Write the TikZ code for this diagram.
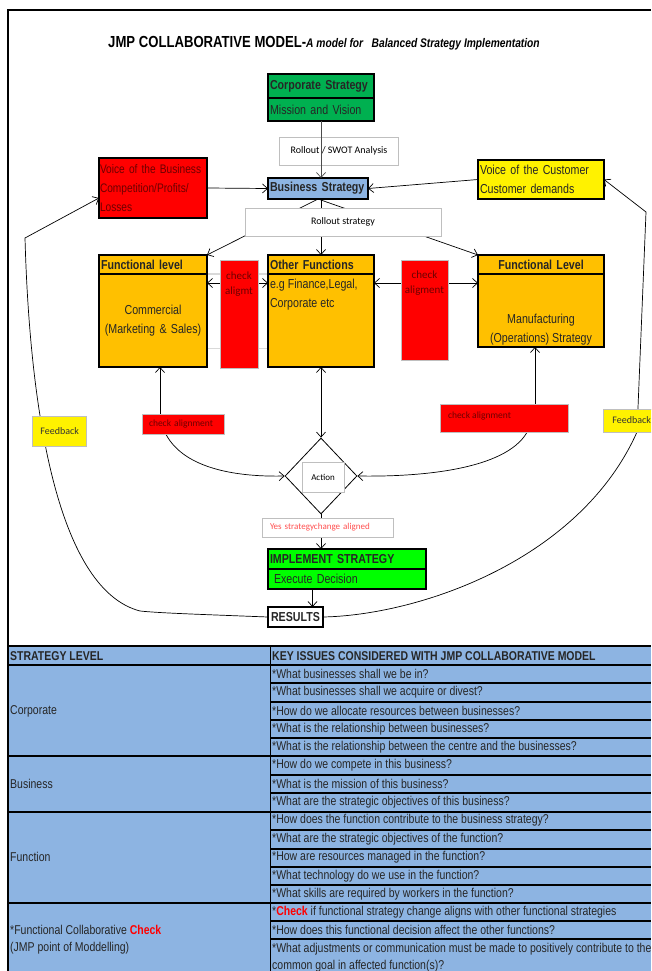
\documentclass[tikz,border=0pt]{standalone}
\usepackage{fontspec}
\newfontfamily\narrow[FakeStretch=0.82]{Liberation Sans}
\newfontfamily\calib{Carlito}
\usetikzlibrary{arrows.meta,shapes.geometric,calc}
\definecolor{corpgreen}{RGB}{0,176,80}
\definecolor{implgreen}{RGB}{0,255,0}
\definecolor{busblue}{RGB}{141,180,226}
\definecolor{funcorange}{RGB}{255,192,0}
\definecolor{darkred}{RGB}{110,0,0}
\definecolor{tagred}{RGB}{255,80,80}
\definecolor{tagline}{RGB}{191,191,191}
\pgfdeclarelayer{bg}
\pgfsetlayers{bg,main}
\newcommand{\boxfont}{\narrow\fontsize{13}{19}\selectfont}
\newcommand{\tagfont}{\calib\fontsize{10}{15}\selectfont}
\newcommand{\tabfont}{\narrow\fontsize{12.8}{18}\selectfont}

\begin{document}
\begin{tikzpicture}[x=1pt, y=-1pt,
  box/.style={draw, line width=2.4pt, outer sep=0pt, anchor=north west, inner sep=2pt, font=\boxfont, text=black!85, align=left},
  hd/.style={box, font=\boxfont\bfseries},
  tag/.style={draw=tagline, line width=0.8pt, fill=white, font=\tagfont, inner sep=0pt},
  chk/.style={tag, fill=red, text=darkred},
  fb/.style={tag, fill=yellow, text=black!80, anchor=west, inner xsep=8pt, align=left},
  arr/.style={-{Straight Barb[length=5pt,width=9pt]}, line width=0.7pt},
  twoway/.style={{Straight Barb[length=5pt,width=9pt]}-{Straight Barb[length=5pt,width=9pt]}, line width=0.7pt},
  ghost/.style={draw=black!15, line width=1.2pt},
  cell/.style={anchor=west, font=\tabfont, inner sep=0pt, text=black!85}
]
\useasboundingbox (0,0) rectangle (651,971);
\clip (0,0) rectangle (651,971);

% title
\node[font=\narrow\fontsize{16}{18}\selectfont\bfseries] (title) at (324,43) {JMP COLLABORATIVE MODEL-{\fontsize{12.5}{14}\selectfont\itshape A model for\ \ \ Balanced Strategy Implementation}};

% strategy boxes
\node[hd, fill=corpgreen, text width=102pt, minimum height=24pt] (corp) at (268,74) {Corporate Strategy};
\node[box, fill=corpgreen, text width=102pt, minimum height=23pt] (mission) at (corp.south west) {Mission and Vision};
\node[hd, fill=busblue, text width=96pt, minimum height=21pt] (bus) at (268,178) {Business Strategy};
\node[box, fill=red, text=darkred, inner xsep=1pt, text width=106pt, minimum height=60pt, font=\narrow\fontsize{12.4}{19}\selectfont] (vob) at (99,158) {Voice of the Business\\Competition/Profits/\\Losses};
\node[box, fill=yellow, text width=122pt, minimum height=39pt] (voc) at (478,160) {Voice of the Customer\\Customer demands};

% functional level
\node[hd, fill=funcorange, text width=104pt, minimum height=19pt] (lhead) at (99,255) {Functional level};
\node[box, fill=funcorange, text width=104pt, minimum height=93pt, align=center] (lbody) at (lhead.south west) {Commercial\\(Marketing \& Sales)};
\node[hd, fill=funcorange, text width=102pt, minimum height=19pt] (ohead) at (268,255) {Other Functions};
\node[box, fill=funcorange, text width=102pt, minimum height=93pt] (obody) at (ohead.south west) {};
\node[box, draw=none, fill=none, yshift=-3pt] (otext) at (obody.north west) {e.g Finance,Legal,\\Corporate etc};
\node[hd, fill=funcorange, text width=122pt, minimum height=19pt, align=center] (rhead) at (478,255) {Functional Level};
\node[box, fill=funcorange, text width=122pt, minimum height=73pt] (rbody) at (rhead.south west) {};
\node[box, draw=none, fill=none, align=center, anchor=south] (rtext) at (rbody.south) {Manufacturing\\(Operations) Strategy};

% implementation
\node[hd, fill=implgreen, text width=154pt, minimum height=20pt] (impl) at (268,549) {IMPLEMENT STRATEGY};
\node[box, fill=implgreen, text width=154pt, minimum height=20pt] (exec) at (impl.south west) {\hspace{4pt}Execute Decision};
\node[hd, fill=white, text width=51pt, minimum height=20pt, align=center] (results) at (268,607) {RESULTS};
\node[diamond, draw, line width=0.8pt, minimum width=72pt, minimum height=76pt, inner sep=0pt] (dia) at (321,476) {};

% labels
\node[tag, minimum width=119pt, minimum height=28pt] (swot) at (339,151) {Rollout / SWOT Analysis};
\node[tag, minimum width=196pt, minimum height=28pt] (roll) at (343,222) {Rollout strategy};
\node[chk, minimum width=38pt, minimum height=108pt] (lchkT) at (239,314) {};
\node[chk, draw=none, fill=none, align=center, anchor=north, font=\calib\fontsize{11}{15}\selectfont] (lchkTx) at ($(lchkT.north)+(0,12)$) {check\\aligmt};
\node[chk, minimum width=47pt, minimum height=100pt] (rchkT) at (424.5,310) {};
\node[chk, draw=none, fill=none, align=center, anchor=north, font=\calib\fontsize{11}{15}\selectfont] (rchkTx) at ($(rchkT.north)+(0,11)$) {check\\aligment};
\node[chk, minimum width=82pt, minimum height=20pt, text width=68pt, align=left, font=\calib\fontsize{9.5}{12}\selectfont] (lchk) at (183,424) {check alignment};
\node[chk, minimum width=128pt, minimum height=28pt] (rchk) at (504,418) {};
\node[chk, draw=none, fill=none, anchor=north west, font=\calib\fontsize{9.5}{12}\selectfont] (rchkx) at ($(rchk.north west)+(8,8)$) {check alignment};
\node[fb, minimum height=30pt] (fbL) at (32,431) {Feedback};
\node[fb, minimum height=23pt, inner xsep=9pt] (fbR) at (603,420.5) {Feedback};
\node[tag, minimum width=42pt, minimum height=30pt, font=\calib\fontsize{9}{11}\selectfont] (act) at (323,477) {Action};
\node[tag, minimum width=131pt, minimum height=19pt, text width=115pt, align=left, text=tagred, font=\calib\fontsize{9}{11}\selectfont] (yes) at (327.5,527.5) {Yes strategychange aligned};

\draw[arr, draw=black!70] (mission.south) -- (mission.south |- bus.north);

% connectors
\begin{pgfonlayer}{bg}
\draw[arr] (vob.east) -- (bus.west);
\draw[arr] (voc.west) -- (bus.east);
\draw[arr] (bus.south) -- (lhead.north east);
\draw[arr] (ohead.north |- bus.south) -- (ohead.north);
\draw[arr] (bus.south) -- (rhead.north west);
\draw[ghost] (lhead.south east) rectangle ($(obody.west)+(0,28)$);
\draw[twoway] ($(lhead.south east)+(0,9)$) -- ($(ohead.south west)+(0,9)$);
\draw[twoway] ($(ohead.south east)+(0,9)$) -- ($(rhead.south west)+(0,9)$);
\coordinate (lup) at ($(lchk.north)+(-23,0)$);
\draw[arr] (lup) -- (lup |- lbody.south);
\coordinate (rup) at ($(rchk.north)+(31,0)$);
\draw[arr] (rup) -- (rup |- rbody.south);
\draw[twoway] (obody.south) -- (dia.north);
\draw[arr] ($(lchk.south)+(-17,0)$) .. controls (185,470) and (240,477) .. (dia.west);
\draw[arr] ($(rchk.south)+(23,0)$) .. controls (505,470) and (420,477) .. (dia.east);
\draw[arr] (dia.south) -- (dia.south |- impl.north);
\coordinate (rtop) at ($(results.north)+(17,0)$);
\draw[arr] (rtop |- exec.south) -- (rtop);
% feedback loops
\draw[arr] (results.west) .. controls (190,614) and (160,613) .. (140,611) .. controls (60,590) and (30,420) .. (25,238) -- ($(vob.west)+(0,10)$);
\draw[arr] (results.east) .. controls (420,615) and (580,560) .. (637,432) -- (646,212) -- (voc.east);
\end{pgfonlayer}

% table
\fill[busblue] (8,646) rectangle (651,971);
\draw[line width=2pt] (8,646) -- (651,646) (8,665) -- (651,665) (8,756) -- (651,756) (8,812) -- (651,812) (8,903) -- (651,903);
\draw[line width=1.5pt] (270,683) -- (651,683) (270,702) -- (651,702) (270,720) -- (651,720) (270,738) -- (651,738)
  (270,775) -- (651,775) (270,793) -- (651,793)
  (270,830) -- (651,830) (270,849) -- (651,849) (270,867) -- (651,867) (270,885) -- (651,885)
  (270,921) -- (651,921) (270,939) -- (651,939);
\draw[line width=1pt] (270,646) -- (270,971);
\draw[line width=1.6pt] (8,971) -- (8,10) -- (651,10);

\node[cell, font=\tabfont\bfseries] (hlevel) at (10,656) {STRATEGY LEVEL};
\node[cell, font=\tabfont\bfseries] (hissues) at (272,656) {KEY ISSUES CONSIDERED WITH JMP COLLABORATIVE MODEL};
\node[cell] (corpl) at (10,711) {Corporate};
\node[cell] (busl) at (10,784) {Business};
\node[cell] (funcl) at (10,857) {Function};
\node[cell] (collabl) at (10,930) {*Functional Collaborative {\color{red}\bfseries Check}};
\node[cell] (jmpl) at (10,948) {(JMP point of Moddelling)};
\node[cell] (q1) at (272,674) {*What businesses shall we be in?};
\node[cell] (q2) at (272,692) {*What businesses shall we acquire or divest?};
\node[cell] (q3) at (272,711) {*How do we allocate resources between businesses?};
\node[cell] (q4) at (272,729) {*What is the relationship between businesses?};
\node[cell] (q5) at (272,747) {*What is the relationship between the centre and the businesses?};
\node[cell] (q6) at (272,765) {*How do we compete in this business?};
\node[cell] (q7) at (272,784) {*What is the mission of this business?};
\node[cell] (q8) at (272,802) {*What are the strategic objectives of this business?};
\node[cell] (q9) at (272,820) {*How does the function contribute to the business strategy?};
\node[cell] (q10) at (272,839) {*What are the strategic objectives of the function?};
\node[cell] (q11) at (272,857) {*How are resources managed in the function?};
\node[cell] (q12) at (272,876) {*What technology do we use in the function?};
\node[cell] (q13) at (272,894) {*What skills are required by workers in the function?};
\node[cell] (q14) at (272,912) {*{\color{red}\bfseries Check} if functional strategy change aligns with other functional strategies};
\node[cell] (q15) at (272,930) {*How does this functional decision affect the other functions?};
\node[cell] (q16) at (272,949) {*What adjustments or communication must be made to positively contribute to the};
\node[cell] (q17) at (272,966) {common goal in affected function(s)?};
\end{tikzpicture}
\end{document}
